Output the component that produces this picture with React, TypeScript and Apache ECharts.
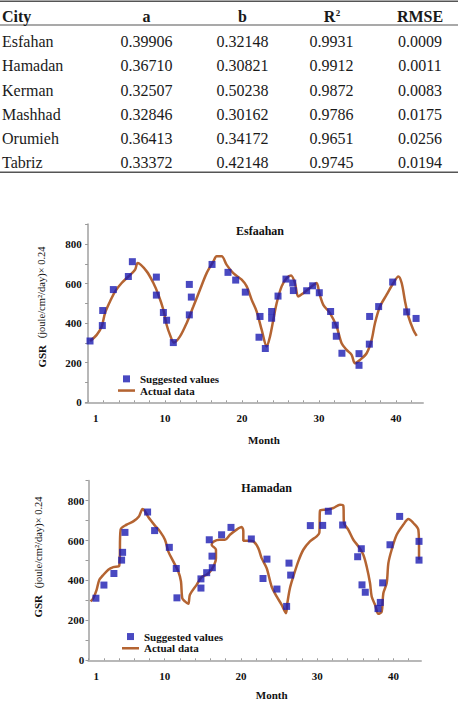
import React, { useEffect, useRef } from "react";
import * as echarts from "echarts";

// ---------- Table data ----------
const tableHeaders = ["City", "a", "b", "R", "RMSE"];
const cities = ["Esfahan", "Hamadan", "Kerman", "Mashhad", "Orumieh", "Tabriz"];
const aValues = ["0.39906", "0.36710", "0.32507", "0.32846", "0.36413", "0.33372"];
const bValues = ["0.32148", "0.30821", "0.50238", "0.30162", "0.34172", "0.42148"];
const r2Values = ["0.9931", "0.9912", "0.9872", "0.9786", "0.9651", "0.9745"];
const rmseValues = ["0.0009", "0.0011", "0.0083", "0.0175", "0.0256", "0.0194"];

// ---------- Chart data ----------
const chartTitles = ["Esfaahan", "Hamadan"];
const xTickLabels = [1, 10, 20, 30, 40];
const yTickLabels = [0, 200, 400, 600, 800];

const esfSuggested: [number, number][] = [
  [0.25, 310], [1.85, 388], [1.9, 464], [3.28, 570], [5.23, 636], [5.75, 711],
  [8.87, 633], [8.87, 542], [9.78, 454], [10.2, 415], [11.07, 302], [13.15, 596],
  [13.41, 532], [13.15, 442], [16.1, 697], [18.17, 657], [19.17, 618], [20.42, 557],
  [22.33, 434], [22.2, 329], [23.02, 272], [23.84, 459], [23.84, 425], [24.67, 537],
  [25.7, 623], [26.58, 603], [26.66, 565], [28.39, 564], [29.17, 589], [30.03, 554],
  [31.5, 459], [32.11, 390], [32.24, 334], [32.97, 248], [35.19, 246], [35.19, 187],
  [36.53, 294], [36.57, 434], [37.74, 484], [39.56, 608], [41.38, 457], [42.6, 424],
];

const esfActual: [number, number][] = [
  [0.25, 310], [1.12, 341], [1.77, 383], [2.2, 451], [2.85, 510], [3.5, 560],
  [4.36, 603], [5.23, 636], [6.1, 670], [6.44, 704], [7.61, 662], [8.48, 603],
  [9.13, 544], [9.78, 468], [10.2, 392], [10.64, 341], [11.16, 302], [11.94, 333],
  [12.8, 400], [13.67, 484], [14.53, 569], [15.4, 653], [16.27, 712], [16.7, 738],
  [17.35, 738], [18.0, 695], [18.86, 653], [19.95, 620], [20.6, 586], [21.25, 518],
  [21.9, 459], [22.55, 366], [23.2, 282], [23.63, 333], [24.06, 417], [24.49, 501],
  [25.14, 586], [25.79, 628], [26.36, 641], [26.87, 603], [27.3, 535], [27.95, 552],
  [29.04, 586], [29.68, 603], [30.03, 552], [30.55, 493], [31.42, 451], [32.28, 383],
  [32.93, 299], [33.58, 265], [34.23, 240], [34.66, 197], [35.31, 214], [36.18, 248],
  [36.83, 316], [37.26, 400], [37.91, 484], [38.78, 544], [39.65, 603], [40.3, 636],
  [40.73, 603], [41.17, 510], [41.6, 434], [42.25, 366], [42.68, 336],
];

const hamSuggested: [number, number][] = [
  [0.97, 311], [2.02, 377], [3.33, 435], [4.34, 502], [4.47, 541], [4.78, 641],
  [7.75, 743], [8.67, 650], [10.6, 566], [11.51, 460], [11.6, 313], [14.75, 408],
  [14.75, 362], [15.5, 439], [15.84, 604], [16.2, 522], [16.24, 464], [17.46, 629],
  [18.69, 666], [21.36, 608], [22.89, 410], [23.41, 507], [24.72, 357], [25.99, 270],
  [26.3, 487], [26.52, 427], [29.1, 675], [30.72, 676], [31.46, 747], [33.34, 678],
  [35.31, 519], [35.79, 559], [35.88, 378], [36.31, 341], [37.98, 259], [38.28, 290],
  [38.59, 388], [39.55, 579], [40.82, 721], [43.36, 596], [43.36, 502],
];

const hamActual: [number, number][] = [
  [0.27, 295], [0.62, 311], [1.06, 353], [1.41, 403], [1.85, 424], [2.59, 454],
  [3.25, 467], [4.03, 474], [4.21, 655], [5.0, 680], [5.87, 696], [6.61, 721],
  [7.09, 758], [7.4, 747], [7.84, 718], [8.71, 675], [9.37, 646], [10.03, 604],
  [10.46, 546], [11.12, 496], [11.78, 445], [12.13, 395], [12.3, 311], [12.65, 295],
  [13.09, 283], [13.3, 328], [14.18, 378], [14.84, 417], [15.5, 429], [16.15, 454],
  [16.72, 512], [16.72, 554], [16.15, 579], [16.46, 596], [17.24, 604], [17.9, 604],
  [18.55, 629], [19.43, 655], [20.09, 668], [20.31, 646], [20.31, 599], [20.96, 599],
  [21.62, 596], [22.27, 562], [22.71, 512], [23.37, 462], [24.02, 370], [24.68, 320],
  [25.34, 278], [25.9, 236], [26.08, 286], [26.43, 362], [26.87, 420], [27.52, 496],
  [28.18, 554], [29.05, 596], [29.93, 621], [30.28, 638], [30.37, 750], [31.24, 755],
  [32.12, 763], [32.99, 780], [33.43, 775], [33.52, 688], [34.09, 654], [34.74, 604],
  [35.4, 571], [36.05, 529], [36.49, 470], [36.93, 387], [37.15, 320], [37.59, 278],
  [38.03, 233], [38.46, 244], [38.68, 336], [39.12, 387], [39.34, 487], [39.77, 554],
  [40.43, 629], [41.31, 680], [41.96, 708], [42.62, 688], [43.27, 655], [43.36, 571],
  [43.36, 504],
];

const SERIF = "Liberation Serif, serif";
const BLUE = "#1c1cb2";
const BROWN = "#b46432";
const AXIS_GRAY = "#b8b8b8";

export default function App() {
  const ref = useRef<HTMLDivElement>(null);

  useEffect(() => {
    document.body.style.margin = "0";
    if (!ref.current) return;
    const chart = echarts.init(ref.current, null, { renderer: "svg" });

    const xTickMarks: number[] = [];
    for (let v = 0; v <= 43; v += 2) xTickMarks.push(v);
    const yTickMarks: number[] = [];
    for (let v = 0; v <= 900; v += 100) yTickMarks.push(v);

    const grids = [
      { left: 85.7, top: 224.3, width: 337.3, height: 178 },
      { left: 88.3, top: 480.7, width: 332.7, height: 179.6 },
    ];
    const xRanges = [
      [-0.31, 43.5],
      [-0.03, 43.62],
    ];

    const xAxes = grids.map((_, i) => ({
      type: "value",
      gridIndex: i,
      min: xRanges[i][0],
      max: xRanges[i][1],
      splitLine: { show: false },
      axisLine: { show: true, lineStyle: { color: AXIS_GRAY, width: 2 } },
      axisTick: {
        show: true,
        inside: true,
        length: 2,
        customValues: xTickMarks,
        lineStyle: { color: "#9a9a9a", width: 1 },
      },
      axisLabel: {
        customValues: xTickLabels,
        fontFamily: SERIF,
        fontWeight: "bold",
        fontSize: 11,
        color: "#111",
        margin: 10,
      },
    }));

    const yAxes = grids.map((_, i) => ({
      type: "value",
      gridIndex: i,
      min: 0,
      max: 900,
      splitLine: { show: false },
      axisLine: { show: true, lineStyle: { color: AXIS_GRAY, width: 2 } },
      axisTick: {
        show: true,
        length: 3,
        customValues: yTickMarks,
        lineStyle: { color: "#9a9a9a", width: 1 },
      },
      axisLabel: {
        customValues: yTickLabels,
        fontFamily: SERIF,
        fontWeight: "bold",
        fontSize: 11,
        color: "#111",
        margin: 4,
      },
    }));

    const suggestedSets = [esfSuggested, hamSuggested];
    const actualSets = [esfActual, hamActual];
    const series: any[] = [];
    for (let i = 0; i < 2; i++) {
      series.push({
        type: "line",
        name: "Actual data",
        xAxisIndex: i,
        yAxisIndex: i,
        data: actualSets[i],
        symbol: "none",
        smooth: 0.3,
        lineStyle: { color: BROWN, width: 2.5 },
        itemStyle: { color: BROWN },
        z: 2,
      });
      series.push({
        type: "scatter",
        name: "Suggested values",
        xAxisIndex: i,
        yAxisIndex: i,
        data: suggestedSets[i],
        symbol: "rect",
        symbolSize: 7,
        itemStyle: { color: BLUE },
        z: 3,
      });
    }

    const legendPos = [
      { left: 118, top: 373 },
      { left: 122, top: 630.7 },
    ];
    const legends = legendPos.map((p) => ({
      orient: "vertical",
      left: p.left,
      top: p.top,
      padding: 0,
      itemWidth: 17,
      itemHeight: 7,
      itemGap: 0,
      selectedMode: false,
      data: [
        { name: "Suggested values", icon: "path://M0,0h10v10h-10z", itemStyle: { color: BLUE } },
        { name: "Actual data", icon: "path://M0,0h40v6h-40z", itemStyle: { color: BROWN } },
      ],
      textStyle: {
        fontFamily: SERIF,
        fontWeight: "bold",
        fontSize: 11,
        lineHeight: 11.7,
        color: "#111",
      },
    }));

    // ---------- Graphic: table + titles + axis names ----------
    const g: any[] = [];
    const rule = (y: number, h: number) => ({
      type: "rect",
      shape: { x: 0, y, width: 458, height: h },
      style: { fill: "#555" },
      silent: true,
    });
    g.push(rule(0.5, 1.5));
    g.push(rule(24.5, 1));
    g.push(rule(171.5, 1.5));

    const colX = [2, 146.5, 242.5, 331.5, 420];
    const txt = (text: string, x: number, y: number, opts: any = {}) => ({
      type: "text",
      x,
      y,
      silent: true,
      style: {
        text,
        fill: "#1a1a1a",
        fontFamily: SERIF,
        fontSize: 16,
        textAlign: "center",
        textVerticalAlign: "middle",
        ...opts,
      },
    });

    // header
    g.push(txt(tableHeaders[0], colX[0], 16, { fontWeight: "bold", textAlign: "left" }));
    g.push(txt(tableHeaders[1], colX[1], 16, { fontWeight: "bold" }));
    g.push(txt(tableHeaders[2], colX[2], 16, { fontWeight: "bold" }));
    g.push(txt(tableHeaders[3], colX[3] - 2, 16, { fontWeight: "bold" }));
    g.push(txt("2", colX[3] + 6.5, 13, { fontWeight: "bold", fontSize: 9 }));
    g.push(txt(tableHeaders[4], colX[4], 16, { fontWeight: "bold" }));

    const rowY = [41.7, 65.9, 90.1, 114.3, 138.5, 162.9];
    cities.forEach((c, r) => {
      const y = rowY[r];
      g.push(txt(c, colX[0], y, { textAlign: "left" }));
      g.push(txt(aValues[r], colX[1], y));
      g.push(txt(bValues[r], colX[2], y));
      g.push(txt(r2Values[r], colX[3], y));
      g.push(txt(rmseValues[r], colX[4], y));
    });

    // chart titles
    g.push(txt(chartTitles[0], 260, 231, { fontWeight: "bold", fontSize: 12, fill: "#111" }));
    g.push(txt(chartTitles[1], 266.7, 488.3, { fontWeight: "bold", fontSize: 12, fill: "#111" }));

    // x axis names
    g.push(txt("Month", 264, 440, { fontWeight: "bold", fontSize: 11, fill: "#111" }));
    g.push(txt("Month", 271.7, 694.5, { fontWeight: "bold", fontSize: 11, fill: "#111" }));

    // y axis names (rotated)
    const yName = (x: number, y: number) => ({
      type: "text",
      x,
      y,
      rotation: Math.PI / 2,
      silent: true,
      style: {
        text: "{g|GSR}  {n|(joule/cm²/day)× 0.24}",
        textAlign: "center",
        textVerticalAlign: "middle",
        fill: "#111",
        rich: {
          g: { fontFamily: SERIF, fontWeight: "bold", fontSize: 11, fill: "#111" },
          n: { fontFamily: SERIF, fontSize: 10.5, fill: "#111" },
        },
      },
    });
    g.push(yName(41.7, 307));
    g.push(yName(38.3, 557));

    chart.setOption({
      animation: false,
      backgroundColor: "#ffffff",
      grid: grids,
      xAxis: xAxes,
      yAxis: yAxes,
      legend: legends,
      series,
      graphic: g,
    } as any);

    return () => {
      chart.dispose();
    };
  }, []);

  return <div ref={ref} style={{ width: 458, height: 706 }} />;
}
